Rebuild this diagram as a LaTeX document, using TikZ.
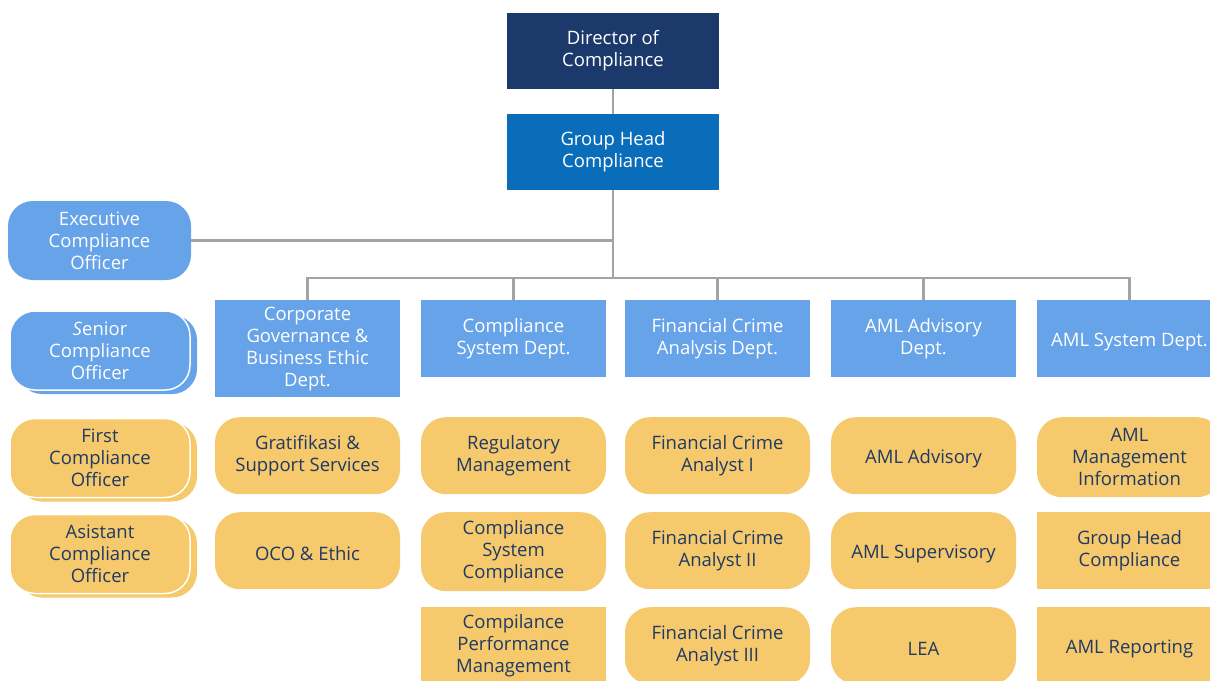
\documentclass[tikz,border=0pt]{standalone}
\usepackage{fontspec}
\setmainfont{Open Sans}
\usetikzlibrary{shadows}

\definecolor{navybox}{HTML}{1B3A6B}
\definecolor{headblue}{HTML}{0A6DB9}
\definecolor{deptblue}{HTML}{66A3E8}
\definecolor{unitgold}{HTML}{F5C96C}
\definecolor{unittext}{HTML}{203A63}
\definecolor{linkgrey}{HTML}{A3A3A3}

\tikzset{
	box/.style={minimum width=185pt, minimum height=77pt, inner sep=0pt, align=center,
		font=\fontsize{18.5}{22}\selectfont, execute at begin node={\rule{0pt}{19.5pt}}},
	topbox/.style={box, minimum width=212pt, minimum height=76pt, text=white},
	dept/.style={box, fill=deptblue, text=white, anchor=north},
	unit/.style={box, fill=unitgold, text=unittext, anchor=north, rounded corners=25pt},
	unitsq/.style={box, fill=unitgold, text=unittext, anchor=north},
	officer/.style={box, minimum width=180pt, minimum height=79pt, rounded corners=25pt},
	stacked/.style={draw=white, line width=1.5pt,
		copy shadow={shadow xshift=7pt, shadow yshift=-4pt, draw=none}},
	link/.style={draw=linkgrey, line width=2.5pt}
}

\begin{document}
\begin{tikzpicture}[x=1pt, y=-1pt]
	\path[use as bounding box, clip] (0,0) rectangle (1210,680);

	% top of the chart
	\node[topbox, fill=navybox] (dir) at (613,51) {Director of\\Compliance};
	\node[topbox, fill=headblue] (head) at (613,152) {Group Head\\Compliance};
	\coordinate (bus) at (613,278);

	% officers on the left
	\node[officer, minimum width=183pt, fill=deptblue, text=white] (exec) at (99.5,240.5) {Executive\\Compliance\\Officer};
	\node[officer, stacked, fill=deptblue, text=white] (senior) at (100,350.5) {\textit{S}enior\\Compliance\\Officer};
	\node[officer, stacked, fill=unitgold, text=unittext] (first) at (100,458) {First\\Compliance\\Officer};
	\node[officer, stacked, fill=unitgold, text=unittext] (asist) at (100,554) {Asistant\\Compliance\\Officer};

	% departments
	\node[dept, minimum height=97pt] (d1) at (307.5,300) {Corporate\\Governance \&\\Business Ethic\\Dept.};
	\node[dept] (d2) at (513.5,300) {Compliance\\System Dept.};
	\node[dept] (d3) at (717.5,300) {Financial Crime\\Analysis Dept.};
	\node[dept] (d4) at (923.5,300) {AML Advisory\\Dept.};
	\node[dept] (d5) at (1129.5,300) {AML System Dept.};

	% units
	\node[unit] (u11) at (307.5,417) {Gratifikasi \&\\Support Services};
	\node[unit] (u12) at (307.5,512) {OCO \& Ethic};

	\node[unit] (u21) at (513.5,417) {Regulatory\\Management};
	\node[unit, minimum height=79pt] (u22) at (513.5,512) {Compliance\\System\\Compliance};
	\node[unitsq] (u23) at (513.5,607) {Compilance\\Performance\\Management};

	\node[unit] (u31) at (717.5,417) {Financial Crime\\Analyst I};
	\node[unit] (u32) at (717.5,512) {Financial Crime\\Analyst II};
	\node[unit] (u33) at (717.5,607) {Financial Crime\\Analyst III};

	\node[unit] (u41) at (923.5,417) {AML Advisory};
	\node[unit] (u42) at (923.5,512) {AML Supervisory};
	\node[unit] (u43) at (923.5,607) {LEA};

	\node[unit, minimum height=80pt] (u51) at (1129.5,417) {AML\\Management\\Information};
	\node[unitsq] (u52) at (1129.5,512) {Group Head\\Compliance};
	\node[unitsq] (u53) at (1129.5,607) {AML Reporting};

	% connectors
	\draw[link] (dir) -- (head);
	\draw[link] (head.south) -- (bus);
	\draw[link] (exec.east) -- (exec.east -| head.south);
	\foreach \d in {d1, d2, d3, d4, d5}{
			\draw[link] (bus) -| (\d.north);
		}
\end{tikzpicture}
\end{document}
